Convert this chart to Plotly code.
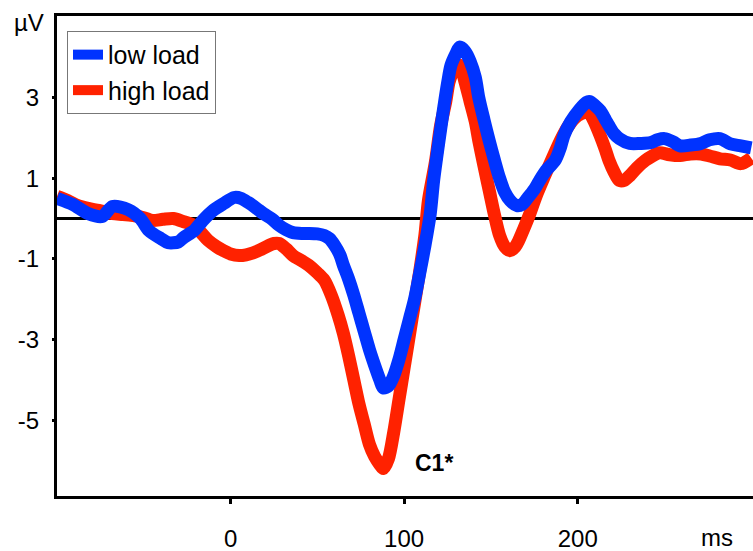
import plotly.graph_objects as go

# time (ms) and amplitude (µV)
t_low = [-100, -91, -82, -74, -68, -59, -52, -47, -40, -36, -30, -27, -21, -16, -10, -4, 2, 6, 10, 15,
         19, 24, 28, 32, 36, 41, 45, 50, 54, 57, 60, 63, 65, 68, 71, 74, 77, 80, 83, 86, 88, 91, 94,
         97, 100, 103, 106, 109, 112, 115, 117, 120, 123, 125, 127, 130, 132, 135, 138, 141, 143, 146,
         149, 152, 155, 158, 161, 165, 168, 171, 175, 178, 182, 187, 190, 192, 196, 201, 205, 207, 210,
         213, 216, 218, 221, 224, 230, 236, 242, 246, 250, 255, 259, 265, 271, 276, 282, 288, 294, 300]
v_low = [0.5, 0.35, 0.12, 0.05, 0.3, 0.22, 0.0, -0.3, -0.5, -0.6, -0.58, -0.47, -0.3, -0.05, 0.2, 0.37, 0.52, 0.5, 0.4, 0.25,
         0.12, -0.02, -0.17, -0.28, -0.35, -0.37, -0.37, -0.38, -0.42, -0.5, -0.67, -0.9, -1.16, -1.5, -1.9, -2.35, -2.8, -3.25, -3.64, -4.0, -4.2, -4.15, -3.9,
         -3.5, -3.0, -2.5, -2.0, -1.35, -0.67, 0.1, 0.94, 1.9, 2.8, 3.35, 3.8, 4.1, 4.25, 4.15, 3.9, 3.5, 3.0, 2.45,
         1.93, 1.45, 1.0, 0.65, 0.45, 0.32, 0.35, 0.5, 0.72, 0.94, 1.2, 1.44, 1.75, 2.05, 2.4, 2.7, 2.88, 2.9, 2.8,
         2.67, 2.45, 2.3, 2.1, 1.98, 1.86, 1.86, 1.88, 1.95, 1.98, 1.9, 1.8, 1.82, 1.86, 1.95, 1.98, 1.85, 1.8, 1.75]

t_high = [-100, -94, -88, -82, -76, -68, -62, -56, -50, -45, -39, -33, -27, -21, -17, -13, -8, -4, 0, 5, 9,
          13, 17, 22, 25, 28, 32, 36, 41, 45, 50, 54, 58, 62, 65, 68, 71, 74, 77, 80, 83, 86, 88, 91,
          94, 97, 100, 103, 106, 109, 112, 114, 118, 121, 124, 126, 129, 132, 135, 138, 141, 143, 146,
          149, 152, 155, 158, 161, 164, 166, 169, 172, 176, 181, 186, 190, 194, 198, 202, 206, 209, 213,
          216, 218, 221, 224, 227, 230, 234, 239, 243, 247, 253, 259, 265, 271, 276, 282, 288, 294, 300]
v_high = [0.55, 0.45, 0.32, 0.25, 0.2, 0.12, 0.1, 0.07, 0.02, -0.05, -0.02, 0.0, -0.08, -0.17, -0.35, -0.54, -0.7, -0.8, -0.88, -0.92, -0.9,
          -0.85, -0.78, -0.67, -0.62, -0.62, -0.75, -0.92, -1.05, -1.16, -1.35, -1.53, -1.9, -2.4, -2.85, -3.4, -4.0, -4.6, -5.1, -5.6, -5.9, -6.1, -6.2, -5.95,
          -5.3, -4.5, -3.7, -2.9, -2.1, -1.3, -0.4, 0.45, 1.4, 2.3, 2.9, 3.4, 3.7, 3.8, 3.4, 2.9, 2.4, 1.93, 1.3,
          0.7, 0.1, -0.42, -0.7, -0.8, -0.7, -0.55, -0.25, 0.07, 0.55, 1.06, 1.55, 1.93, 2.25, 2.48, 2.6, 2.65, 2.45, 2.05,
          1.7, 1.44, 1.15, 0.94, 0.95, 1.06, 1.25, 1.44, 1.55, 1.63, 1.58, 1.56, 1.6, 1.6, 1.55, 1.48, 1.45, 1.36, 1.5]

BLUE = "#0033ff"
RED = "#ff2200"
FONT = "Liberation Sans, Arial, sans-serif"

fig = go.Figure()
fig.add_trace(go.Scatter(x=t_high, y=v_high, mode="lines", name="high load",
                         line=dict(color=RED, width=13, shape="spline", smoothing=0.8)))
fig.add_trace(go.Scatter(x=t_low, y=v_low, mode="lines", name="low load",
                         line=dict(color=BLUE, width=13, shape="spline", smoothing=0.8)))

fig.update_layout(
    width=753, height=551,
    margin=dict(l=57, r=0, t=16, b=55),
    paper_bgcolor="white", plot_bgcolor="white",
    font=dict(family=FONT, size=24, color="black"),
    showlegend=True,
    legend=dict(x=0.0144, y=0.969, xanchor="left", yanchor="top",
                bordercolor="#777777", borderwidth=1, bgcolor="white",
                traceorder="reversed", font=dict(size=25),
                itemwidth=30, tracegroupgap=0),
    xaxis=dict(range=[-100, 301], tickvals=[0, 100, 200], ticktext=["0", "100", "200"],
               showgrid=False, zeroline=False, showline=True, linecolor="black", linewidth=3,
               mirror=True, ticks="outside", ticklen=5, tickwidth=3, tickcolor="black",
               ticklabelstandoff=14),
    yaxis=dict(range=[-6.88, 5.02], tickvals=[3, 1, -1, -3, -5], ticktext=["3", "1", "-1", "-3", "-5"],
               showgrid=False, zeroline=True, zerolinecolor="black", zerolinewidth=3,
               showline=True, linecolor="black", linewidth=3,
               ticks="outside", ticklen=2, tickwidth=3, tickcolor="black",
               ticklabelstandoff=8),
    annotations=[
        dict(text="µV", xref="paper", yref="paper", x=0, y=1, xanchor="right", yanchor="middle",
             xshift=-11, yshift=-6, showarrow=False, font=dict(size=24)),
        dict(text="ms", xref="x", yref="paper", x=280, y=0, xanchor="center", yanchor="top",
             yshift=-26, showarrow=False, font=dict(size=24)),
        dict(text="<b>C1*</b>", xref="x", yref="y", x=117, y=-6.05, xanchor="center", yanchor="middle",
             showarrow=False, font=dict(size=23)),
    ],
)

fig.write_html("out.html")
